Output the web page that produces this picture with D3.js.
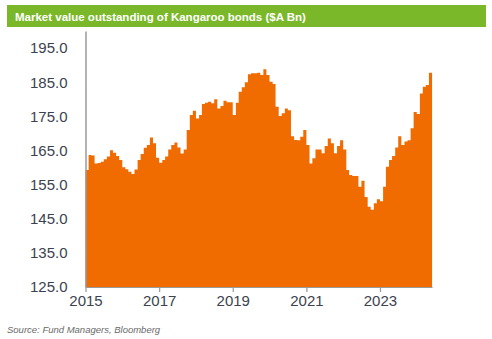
<!DOCTYPE html>
<html>
<head>
<meta charset="utf-8">
<script src="https://cdn.jsdelivr.net/npm/d3@7"></script>
<style>
  html, body { margin: 0; padding: 0; background: #fff; }
  svg { display: block; }
</style>
</head>
<body>
<svg id="chart" width="492" height="339"></svg>
<script>
// Monthly values, Jan 2015 .. May 2024 ($A Bn)
const startYear = 2015;
const values = [
  159.3, 163.7, 163.5, 161.2, 161.3, 161.7, 162.4, 163.2, 165.1, 164.3, 163.4, 162.2, // 2015
  160.1, 159.5, 158.8, 158.1, 159.4, 162.2, 164.0, 165.8, 166.6, 168.8, 167.1, 162.9, // 2016
  161.4, 162.2, 163.2, 165.3, 166.6, 167.3, 165.9, 164.1, 165.3, 171.0, 175.4, 176.6, // 2017
  174.4, 175.4, 178.6, 179.0, 179.3, 178.8, 180.0, 177.3, 178.0, 179.6, 179.1, 179.1, // 2018
  175.4, 179.0, 182.2, 183.5, 185.0, 187.3, 187.6, 187.6, 187.8, 187.1, 188.8, 187.1, // 2019
  185.1, 184.5, 177.8, 175.1, 175.9, 177.3, 176.8, 169.2, 168.1, 168.0, 169.0, 171.0, // 2020
  166.6, 161.2, 162.7, 165.3, 165.3, 164.2, 166.3, 168.5, 167.1, 164.2, 166.3, 168.0, // 2021
  165.3, 159.3, 157.8, 157.5, 157.5, 154.4, 156.1, 151.4, 148.5, 147.6, 149.5, 150.7, // 2022
  150.1, 154.4, 160.2, 162.2, 163.4, 165.9, 169.2, 166.6, 167.6, 168.0, 171.5, 176.3, // 2023
  175.7, 181.7, 183.7, 184.2, 187.8                                                 // 2024
];
const yTicks = [125, 135, 145, 155, 165, 175, 185, 195];
const xTickYears = [2015, 2017, 2019, 2021, 2023];
const title = "Market value outstanding of Kangaroo bonds ($A Bn)";
const source = "Source: Fund Managers, Bloomberg";

const data = values.map((v, i) => ({ date: new Date(startYear, i, 1), value: v }));
// closing point so the last month has full width
const stepData = data.concat([{ date: new Date(startYear, values.length, 1), value: values[values.length - 1] }]);

const svg = d3.select("#chart");

// Title bar
svg.append("rect").attr("x", 7).attr("y", 5).attr("width", 479).attr("height", 22)
  .attr("fill", "#7ab829");
svg.append("text").attr("x", 15).attr("y", 20.5)
  .attr("font-family", "'Liberation Sans', Arial, sans-serif")
  .attr("font-size", 11.5).attr("font-weight", "bold").attr("fill", "#fff")
  .text(title);

const x0 = 85.5, monthW = 3.067;
const x = d3.scaleTime()
  .domain([new Date(startYear, 0, 1), new Date(startYear, values.length, 1)])
  .range([x0, x0 + monthW * values.length]);
const y = d3.scaleLinear().domain([125, 200]).range([287, 31]);

const area = d3.area()
  .curve(d3.curveStepAfter)
  .x(d => x(d.date))
  .y0(y(125))
  .y1(d => y(d.value));

svg.append("path").datum(stepData).attr("d", area).attr("fill", "#f06c00");

// Y axis
const yAxis = d3.axisLeft(y).tickValues(yTicks).tickFormat(d3.format(".1f")).tickSize(0).tickPadding(18);
const gy = svg.append("g").attr("transform", `translate(${x0},0)`).call(yAxis);
gy.select(".domain").attr("stroke", "#9a9a9a").attr("stroke-width", 1.5);
gy.selectAll("text")
  .attr("font-family", "'Liberation Sans', Arial, sans-serif")
  .attr("font-size", 15).attr("fill", "#3c4250");

// X axis
const xAxis = d3.axisBottom(x)
  .tickValues(xTickYears.map(yr => new Date(yr, 0, 1)))
  .tickFormat(d3.timeFormat("%Y")).tickSize(5).tickSizeOuter(0).tickPadding(3);
const gx = svg.append("g").attr("transform", `translate(0,${y(125)})`).call(xAxis);
gx.select(".domain").attr("stroke", "#9a9a9a").attr("stroke-width", 1);
gx.selectAll(".tick line").attr("stroke", "#9a9a9a").attr("stroke-width", 1.2);
gx.selectAll("text")
  .attr("font-family", "'Liberation Sans', Arial, sans-serif")
  .attr("font-size", 15).attr("fill", "#3c4250");

// Source
svg.append("text").attr("x", 7).attr("y", 333)
  .attr("font-family", "'Liberation Sans', Arial, sans-serif")
  .attr("font-size", 9.5).attr("font-style", "italic").attr("fill", "#6a6a6a")
  .text(source);
</script>
</body>
</html>
